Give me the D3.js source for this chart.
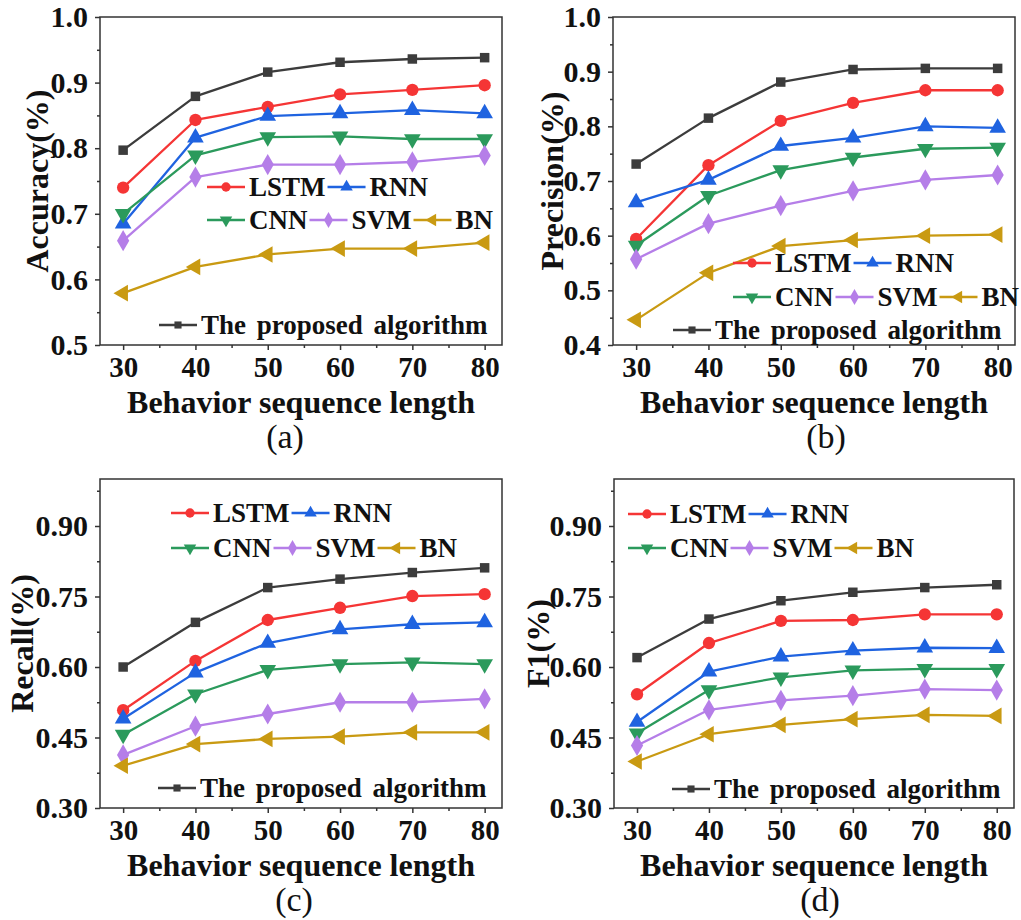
<!DOCTYPE html>
<html>
<head>
<meta charset="utf-8">
<script src="https://cdn.jsdelivr.net/npm/d3@7"></script>
<style>
  html, body { margin: 0; padding: 0; background: #fff; }
  svg { display: block; }
</style>
</head>
<body>
<div id="container"></div>
<script>
// data
const lengths = [30, 40, 50, 60, 70, 80];
const methods = ["LSTM", "RNN", "CNN", "SVM", "BN", "The proposed algorithm"];

// rows follow the order of methods
const accuracy = [
  [0.740, 0.843, 0.863, 0.882, 0.889, 0.896],
  [0.685, 0.816, 0.849, 0.853, 0.858, 0.853],
  [0.700, 0.789, 0.817, 0.818, 0.814, 0.814],
  [0.659, 0.756, 0.775, 0.775, 0.779, 0.789],
  [0.579, 0.619, 0.638, 0.647, 0.647, 0.656],
  [0.797, 0.879, 0.916, 0.931, 0.936, 0.938]
];
const precision = [
  [0.594, 0.729, 0.810, 0.843, 0.866, 0.866],
  [0.661, 0.702, 0.764, 0.779, 0.800, 0.797],
  [0.582, 0.673, 0.720, 0.743, 0.759, 0.761],
  [0.557, 0.622, 0.655, 0.682, 0.702, 0.711],
  [0.446, 0.532, 0.581, 0.592, 0.600, 0.602],
  [0.731, 0.815, 0.881, 0.904, 0.906, 0.906]
];
const recall = [
  [0.508, 0.613, 0.700, 0.726, 0.751, 0.755],
  [0.490, 0.588, 0.651, 0.680, 0.691, 0.695],
  [0.456, 0.542, 0.594, 0.606, 0.610, 0.606],
  [0.413, 0.474, 0.500, 0.525, 0.525, 0.532],
  [0.390, 0.436, 0.447, 0.452, 0.461, 0.461],
  [0.600, 0.695, 0.769, 0.787, 0.801, 0.811]
];
const f1 = [
  [0.542, 0.651, 0.698, 0.700, 0.712, 0.712],
  [0.483, 0.590, 0.622, 0.635, 0.641, 0.640],
  [0.459, 0.551, 0.578, 0.593, 0.596, 0.596],
  [0.433, 0.509, 0.529, 0.539, 0.553, 0.551],
  [0.399, 0.457, 0.477, 0.489, 0.498, 0.496],
  [0.620, 0.702, 0.741, 0.759, 0.769, 0.775]
];

// tick labels
const xTicks = [30, 40, 50, 60, 70, 80];
const accuracyTicks = [0.5, 0.6, 0.7, 0.8, 0.9, 1.0];
const precisionTicks = [0.4, 0.5, 0.6, 0.7, 0.8, 0.9, 1.0];
const recallTicks = [0.30, 0.45, 0.60, 0.75, 0.90];
const f1Ticks = [0.30, 0.45, 0.60, 0.75, 0.90];

const xTitle = "Behavior sequence length";

// styles
const colors = ["#f53535", "#1f63e0", "#2b9a5c", "#b57ee8", "#c99a12", "#3c3c3c"];
const shapes = ["circle", "up", "down", "diamond", "left", "square"];
const font = "'Liberation Serif', 'Times New Roman', serif";

const width = 1021, height = 920;
const svg = d3.select("#container").append("svg")
  .attr("width", width).attr("height", height)
  .attr("viewBox", [0, 0, width, height])
  .style("font-family", font);

// one panel = frame box + scales + legend positions
const panels = [
  { values: accuracy, ticks: accuracyTicks, fmt: ".1f", yDomain: [0.5, 1.0], title: "Accuracy(%)", tag: "(a)",
    box: [100, 17, 502, 345], titleX: 37, tagX: 285,
    leg: [[207, 187], [207, 220], [159, 325]] },
  { values: precision, ticks: precisionTicks, fmt: ".1f", yDomain: [0.4, 1.0], title: "Precision(%)", tag: "(b)",
    box: [613, 17, 1015, 345], titleX: 552, tagX: 826,
    leg: [[733, 263], [733, 297], [673, 330]] },
  { values: recall, ticks: recallTicks, fmt: ".2f", yDomain: [0.3, 1.0], title: "Recall(%)", tag: "(c)",
    box: [100, 479, 502, 808], titleX: 22, tagX: 294,
    leg: [[171, 513], [171, 548], [158, 788]] },
  { values: f1, ticks: f1Ticks, fmt: ".2f", yDomain: [0.3, 1.0], title: "F1(%)", tag: "(d)",
    box: [614, 479, 1014, 808], titleX: 538, tagX: 820,
    leg: [[628, 514], [628, 548], [672, 789]] }
];

function markerPath(shape, scale) {
  const s = scale || 1;
  switch (shape) {
    case "circle": return d3.symbol(d3.symbolCircle, 120 * s * s)();
    case "square": return d3.symbol(d3.symbolSquare, 90 * s * s)();
    case "diamond": return d3.symbol(d3.symbolDiamond, 130 * s * s)();
    default: return d3.symbol(d3.symbolTriangle, 120 * s * s)();
  }
}
function markerRotate(shape) {
  if (shape === "down") return 180;
  if (shape === "left") return -90;
  return 0;
}

panels.forEach(p => {
  const [x0, y0, x1, y1] = p.box;
  const g = svg.append("g");

  const x = d3.scaleLinear().domain([26.8, 82.4]).range([x0, x1]);
  const y = d3.scaleLinear().domain(p.yDomain).range([y1, y0]);

  // minor ticks between majors
  const xMinor = d3.range(35, 80, 10);
  const step = p.ticks[1] - p.ticks[0];
  const yMinor = d3.range(p.ticks[0] + step / 2, p.yDomain[1] + 1e-9, step);

  // x axis
  const gx = g.append("g")
    .attr("transform", `translate(0,${y1})`)
    .call(d3.axisBottom(x).tickValues(xTicks).tickSize(5).tickFormat(d3.format("d")));
  gx.select(".domain").remove();
  gx.selectAll(".tick line").attr("stroke", "#333").attr("stroke-width", 1.5);
  gx.selectAll(".tick text")
    .attr("y", 32).attr("dy", null)
    .attr("font-size", 29).attr("font-weight", "bold").attr("font-family", font).attr("fill", "#111");
  g.append("g").attr("transform", `translate(0,${y1})`)
    .call(d3.axisBottom(x).tickValues(xMinor).tickSize(3).tickFormat(""))
    .call(a => a.select(".domain").remove())
    .call(a => a.selectAll(".tick line").attr("stroke", "#333").attr("stroke-width", 1.5));

  // y axis
  const gy = g.append("g")
    .attr("transform", `translate(${x0},0)`)
    .call(d3.axisLeft(y).tickValues(p.ticks).tickSize(5).tickPadding(7).tickFormat(d3.format(p.fmt)));
  gy.select(".domain").remove();
  gy.selectAll(".tick line").attr("stroke", "#333").attr("stroke-width", 1.5);
  gy.selectAll(".tick text")
    .attr("font-size", 30).attr("font-weight", "bold").attr("font-family", font).attr("fill", "#111");
  g.append("g").attr("transform", `translate(${x0},0)`)
    .call(d3.axisLeft(y).tickValues(yMinor).tickSize(3).tickFormat(""))
    .call(a => a.select(".domain").remove())
    .call(a => a.selectAll(".tick line").attr("stroke", "#333").attr("stroke-width", 1.5));

  // frame
  g.append("rect")
    .attr("x", x0).attr("y", y0).attr("width", x1 - x0).attr("height", y1 - y0)
    .attr("fill", "none").attr("stroke", "#333").attr("stroke-width", 1.5);

  // titles
  g.append("text")
    .attr("x", (x0 + x1) / 2).attr("y", y1 + 68)
    .attr("text-anchor", "middle").attr("font-size", 32).attr("font-weight", "bold").attr("fill", "#111")
    .text(xTitle);
  g.append("text")
    .attr("transform", `translate(${p.titleX},${(y0 + y1) / 2}) rotate(-90)`)
    .attr("dy", "0.35em")
    .attr("text-anchor", "middle").attr("font-size", 32).attr("font-weight", "bold").attr("fill", "#111")
    .text(p.title);
  g.append("text")
    .attr("x", p.tagX).attr("y", y1 + 103)
    .attr("text-anchor", "middle").attr("font-size", 34).attr("fill", "#111")
    .text(p.tag);

  // series lines and markers
  const line = d3.line().x((d, i) => x(lengths[i])).y(d => y(d));
  p.values.forEach((vals, k) => {
    g.append("path")
      .datum(vals)
      .attr("fill", "none").attr("stroke", colors[k]).attr("stroke-width", 2.3)
      .attr("stroke-linejoin", "round")
      .attr("d", line);
    g.append("g").selectAll("path")
      .data(vals)
      .join("path")
      .attr("transform", (d, i) => `translate(${x(lengths[i])},${y(d)}) rotate(${markerRotate(shapes[k])})`)
      .attr("d", markerPath(shapes[k]))
      .attr("fill", colors[k]);
  });

  // legend: rows of [sample line + marker + label]
  const rows = [[0, 1], [2, 3, 4], [5]];
  rows.forEach((items, r) => {
    let cx = p.leg[r][0];
    const cy = p.leg[r][1];
    items.forEach(k => {
      const item = g.append("g");
      item.append("line")
        .attr("x1", cx).attr("x2", cx + 38).attr("y1", cy).attr("y2", cy)
        .attr("stroke", colors[k]).attr("stroke-width", 2.3);
      item.append("path")
        .attr("transform", `translate(${cx + 19},${cy}) rotate(${markerRotate(shapes[k])})`)
        .attr("d", markerPath(shapes[k], 0.75))
        .attr("fill", colors[k]);
      const t = item.append("text")
        .attr("x", cx + 42).attr("y", cy).attr("dy", "0.35em")
        .attr("font-size", 27).attr("font-weight", "bold").attr("fill", "#111")
        .attr("word-spacing", k === 5 ? 4 : 0)
        .text(methods[k]);
      cx += 42 + t.node().getComputedTextLength() + 2;
    });
  });
});
</script>
</body>
</html>
